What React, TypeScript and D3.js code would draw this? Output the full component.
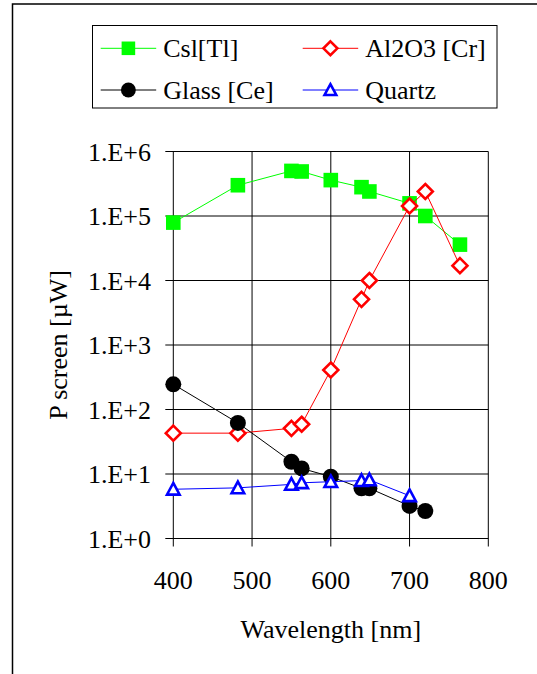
import React from "react";
import * as d3 from "d3";

const wavelengthTicks = [400, 500, 600, 700, 800];
const powerTicks = [1, 10, 100, 1e3, 1e4, 1e5, 1e6];
const powerTickLabels = ["1.E+0", "1.E+1", "1.E+2", "1.E+3", "1.E+4", "1.E+5", "1.E+6"];

const csiX = [400, 482, 550, 563, 600, 639, 649, 700, 720, 764];
const csiY = [79000, 300000, 500000, 490000, 360000, 280000, 240000, 157000, 100000, 36000];

const al2o3X = [400, 482, 550, 563, 600, 639, 649, 700, 720, 764];
const al2o3Y = [43, 43, 51, 59, 410, 5100, 10000, 143000, 240000, 17000];

const glassX = [400, 482, 550, 563, 600, 639, 649, 700, 720];
const glassY = [246, 62, 15.5, 12.2, 9.1, 6.0, 6.0, 3.2, 2.67];

const quartzX = [400, 482, 550, 563, 600, 639, 649, 700];
const quartzY = [5.8, 6.1, 6.9, 7.3, 7.6, 7.9, 8.1, 4.6];

const seriesNames = ["Csl[Tl]", "Al2O3 [Cr]", "Glass [Ce]", "Quartz"];

type Kind = "square" | "diamond" | "circle" | "triangle";

function Marker({ kind, x, y, s = 1 }: { kind: Kind; x: number; y: number; s?: number }) {
  if (kind === "square") {
    const h = 7.3 * s;
    return <rect x={x - h} y={y - h} width={2 * h} height={2 * h} fill="#00ff00" />;
  }
  if (kind === "circle") {
    return <circle cx={x} cy={y} r={8 * s} fill="#000" />;
  }
  if (kind === "diamond") {
    const h = 7.5 * s;
    return (
      <path
        d={`M${x},${y - h}L${x + h},${y}L${x},${y + h}L${x - h},${y}Z`}
        fill="#fff"
        stroke="#ff0000"
        strokeWidth={2.6}
      />
    );
  }
  const h = 6.3 * s;
  return (
    <path
      d={`M${x},${y - h}L${x + h},${y + h * 0.85}L${x - h},${y + h * 0.85}Z`}
      fill="#fff"
      stroke="#0000ff"
      strokeWidth={2.6}
    />
  );
}

function T(props: any) {
  const { children, ...rest } = props;
  return (
    <text
      {...rest}
      fill="#000"
      fontFamily="Liberation Serif"
      fontSize={26}
      style={{ fontFamily: `"Liberation Serif"`, fontSize: "26px" }}
    >
      {children}
    </text>
  );
}

export default function App() {
  const x = d3.scaleLinear().domain([400, 800]).range([173.3, 488.3]);
  const y = d3.scaleLog().domain([1, 1e6]).range([538.5, 151.5]);

  const series = [
    { xs: csiX, ys: csiY, color: "#00ff00", kind: "square" as Kind },
    { xs: al2o3X, ys: al2o3Y, color: "#ff0000", kind: "diamond" as Kind },
    { xs: glassX, ys: glassY, color: "#000000", kind: "circle" as Kind },
    { xs: quartzX, ys: quartzY, color: "#0000ff", kind: "triangle" as Kind },
  ];

  const line = d3
    .line<[number, number]>()
    .x((d) => x(d[0]))
    .y((d) => y(d[1]));

  const [x0, x1] = x.range();
  const [yb, yt] = y.range();

  const legendItems = [
    { name: seriesNames[0], color: "#00ff00", kind: "square" as Kind, lx: 100.7, ly: 48.3 },
    { name: seriesNames[1], color: "#ff0000", kind: "diamond" as Kind, lx: 302.7, ly: 48.3 },
    { name: seriesNames[2], color: "#000000", kind: "circle" as Kind, lx: 100.7, ly: 90 },
    { name: seriesNames[3], color: "#0000ff", kind: "triangle" as Kind, lx: 302.7, ly: 90 },
  ];

  return (
    <svg width={537} height={674} style={{ position: "absolute", left: 0, top: 0 }}>
      <rect x={0} y={0} width={537} height={674} fill="#fff" />
      <rect x={12.5} y={4} width={700} height={800} fill="none" stroke="#000" strokeWidth={1.5} />

      <rect x={92.5} y={25.5} width={404.5} height={82.5} fill="#fff" stroke="#000" strokeWidth={1} />
      {legendItems.map((it, i) => (
        <g key={i}>
          <line x1={it.lx} x2={it.lx + 55.5} y1={it.ly} y2={it.ly} stroke={it.color} strokeWidth={1} />
          <Marker kind={it.kind} x={it.lx + 27.7} y={it.ly} s={0.93} />
          <T x={it.lx + 62.5} y={it.ly + 9}>
            {it.name}
          </T>
        </g>
      ))}

      {wavelengthTicks.map((t) => (
        <line key={"gx" + t} x1={x(t)} x2={x(t)} y1={yt} y2={yb + 8} stroke="#000" strokeWidth={1} />
      ))}
      {powerTicks.map((t) => (
        <line key={"gy" + t} x1={x0 - 8} x2={x1} y1={y(t)} y2={y(t)} stroke="#000" strokeWidth={1} />
      ))}

      {powerTicks.map((t, i) => (
        <T key={"ly" + t} x={151} y={y(t) + 9} textAnchor="end">
          {powerTickLabels[i]}
        </T>
      ))}
      {wavelengthTicks.map((t) => (
        <T key={"lx" + t} x={x(t)} y={588.5} textAnchor="middle">
          {String(t)}
        </T>
      ))}

      <T x={(x0 + x1) / 2} y={637.5} textAnchor="middle">
        Wavelength [nm]
      </T>
      <T transform={`translate(67,${(yb + yt) / 2}) rotate(-90)`} textAnchor="middle">
        P screen [µW]
      </T>

      {series.map((s, i) => {
        const pts = s.xs.map((v, j) => [v, s.ys[j]] as [number, number]);
        return (
          <g key={"s" + i}>
            <path d={line(pts) || ""} fill="none" stroke={s.color} strokeWidth={1} />
            {pts.map((p, j) => (
              <Marker key={j} kind={s.kind} x={x(p[0])} y={y(p[1])} />
            ))}
          </g>
        );
      })}
    </svg>
  );
}
